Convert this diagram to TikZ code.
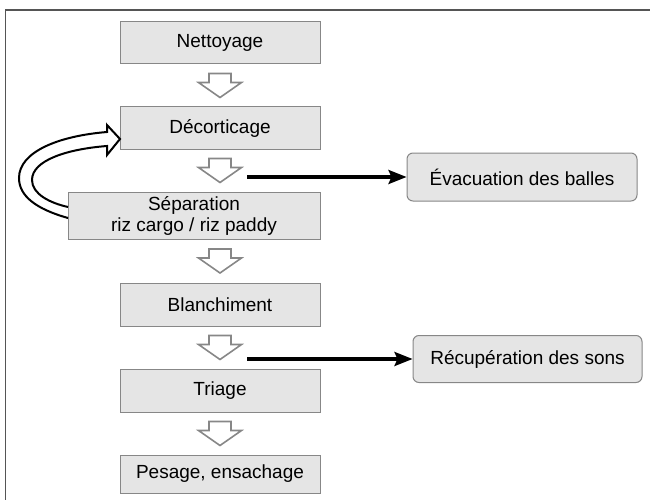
\documentclass[tikz,border=0pt]{standalone}
\usepackage{fontspec}
\setmainfont{Liberation Sans}
\usetikzlibrary{arrows.meta,calc}
\definecolor{boxfill}{RGB}{229,229,229}
\definecolor{boxline}{RGB}{135,135,135}
\definecolor{frameln}{RGB}{85,85,85}
\tikzset{
  stagebox/.style={draw=boxline, fill=boxfill, line width=1pt, minimum width=200pt,
    minimum height=42pt, align=center, inner sep=0pt, font=\fontsize{19}{21}\selectfont},
  sidebox/.style={stagebox, rounded corners=6pt, minimum width=230pt, minimum height=48pt},
  hollow/.style={draw=boxline, fill=white, line width=1.6pt, line join=miter},
  outarrow/.style={-{Stealth[length=18pt,width=14pt,inset=3pt]}, line width=3.2pt},
  looparrow/.style={draw=black, fill=white, line width=2pt, line join=miter},
}
\newcommand{\hollowdown}[2]{%
  \coordinate (m) at ($(#1.south)!0.5!(#2.north)$);
  \draw[hollow] ($(m -| net)+(-11,-12)$) -- ++(22,0) -- ++(0,9) -- ++(10.5,0)
    -- ++(-21.5,15) -- ++(-21.5,-15) -- ++(10.5,0) -- cycle;
}

\begin{document}
\begin{tikzpicture}[x=1pt, y=-1pt]
    \useasboundingbox (0,0) rectangle (650,500);
    % Frame
    \draw[frameln, line width=1.6pt] (650,10) -- (5.5,10) -- (5.5,500);
    % Main line of stages
    \node[stagebox] (net) at (220,43) {Nettoyage};
    \node[stagebox] (dec) at (220,128) {Décorticage};
    \node[stagebox, minimum width=252pt, minimum height=47pt] (sep) at (194,215.5)
      {Séparation\\riz cargo / riz paddy};
    \node[stagebox, minimum height=43pt] (bla) at (220,304.5) {Blanchiment};
    \node[stagebox, minimum height=43pt] (tri) at (220,390.5) {Triage};
    \node[stagebox, minimum height=38pt] (pes) at (220,474) {Pesage, ensachage};
    % Side outputs
    \node[sidebox] (evac) at (522,177) {Évacuation des balles};
    \node[sidebox, minimum width=229pt, minimum height=47pt] (recup) at (527.5,359)
      {Récupération des sons};
    % Hollow arrows between stages
    \hollowdown{net}{dec}
    \hollowdown{dec}{sep}
    \hollowdown{sep}{bla}
    \hollowdown{bla}{tri}
    \hollowdown{tri}{pes}
    % Outputs
    \coordinate (out) at (247,0);
    \draw[outarrow] (out |- evac.west) -- (evac.west);
    \draw[outarrow] (out |- recup.west) -- (recup.west);
    % Return loop from separation to husking
    \draw[looparrow] (68,218) .. controls (36,209) and (19,196) .. (19,178)
      .. controls (19,152) and (58,136) .. (107,132) -- (107,125) -- (120,139)
      -- (107,155) -- (107,146) .. controls (68,149) and (32,160) .. (32,180)
      .. controls (32,194) and (50,203) .. (68,207);
\end{tikzpicture}
\end{document}
